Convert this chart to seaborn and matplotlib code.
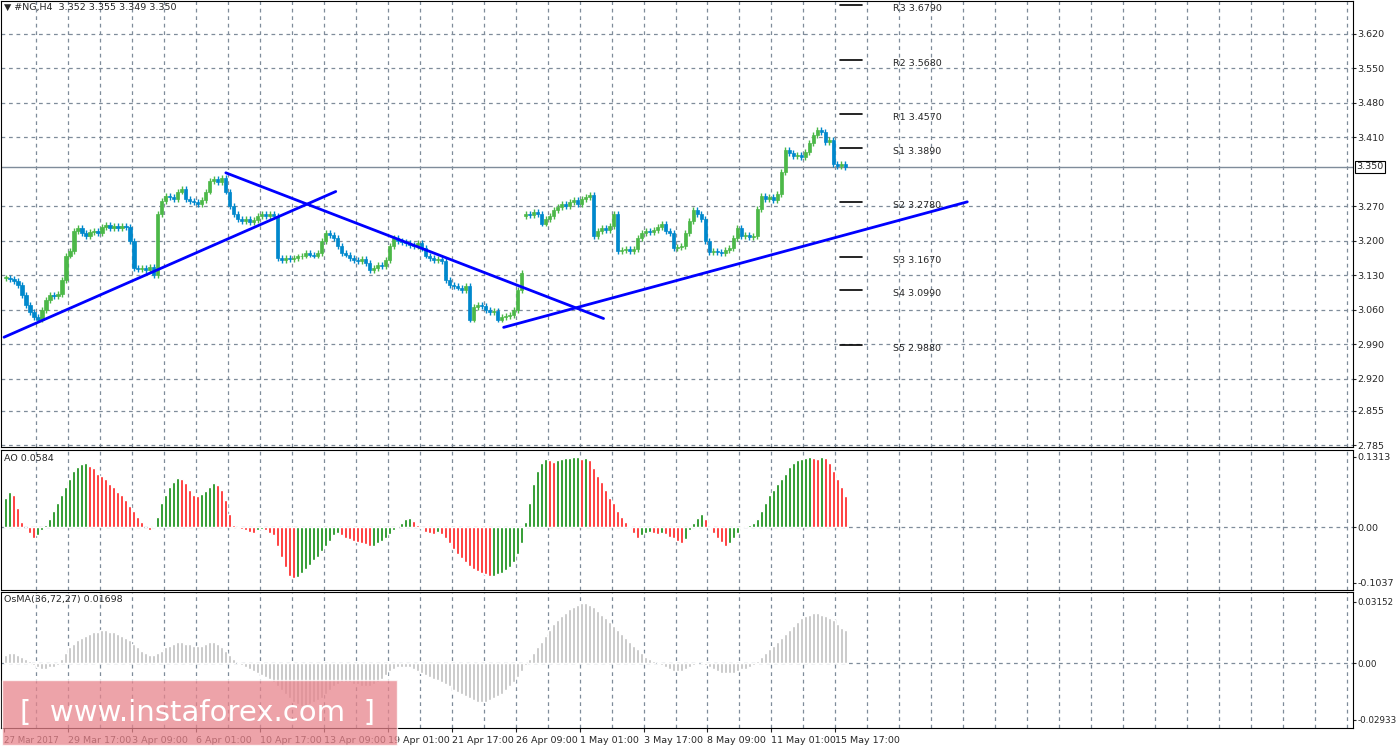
import numpy as np
import pandas as pd
import matplotlib
matplotlib.use("Agg")
import matplotlib.pyplot as plt
import seaborn as sns
from matplotlib.patches import Rectangle

closes = [3.125,3.122,3.118,3.110,3.090,3.070,3.055,3.045,3.040,
 3.060,3.080,3.090,3.088,3.092, 3.120,3.170,3.180,
 3.220,3.225,3.215,3.210,3.218, 3.220,3.215,3.228,3.232,3.225,3.230,
 3.226,3.230,3.228,3.200, 3.145,3.142,3.145,3.140,3.146,3.130, 3.255,
 3.280,3.290,3.288, 3.285,3.300,3.305,3.285, 3.280,3.278,3.275,3.282,3.300,
 3.322,3.325,3.320,3.328,3.300, 3.270,3.255,3.245,3.240,3.245,3.238,3.242,
 3.250,3.255,3.250,3.255,3.250, 3.165,3.160,3.165,3.162,3.165,3.168,
 3.170,3.175,3.172,3.170,3.175, 3.200,3.215,3.212,3.205,3.190,3.175,
 3.172,3.165,3.160,3.158,3.162,3.155, 3.140,3.145,3.150,3.148,3.160,
 3.190,3.205,3.200,3.198, 3.195,3.192,3.190,3.196,3.185,
 3.170,3.165,3.160,3.162,3.158, 3.120,3.110,3.108,3.105,3.100,3.108,
 3.040,3.065,3.070,3.068, 3.060,3.055,3.058,3.040, 3.045,3.048,3.050,3.060,3.100, 3.135,
 3.255,3.252,3.258,3.255,3.235,3.245, 3.250,3.262,3.268,3.275,3.270,
 3.278,3.282,3.275,3.285,3.288,3.292, 3.210,3.220,3.225,3.222,3.230,
 3.255,3.180, 3.182,3.184,3.180,3.184, 3.205,3.215,3.220,3.218,3.222,3.228,
 3.235,3.220,3.215, 3.185,3.188,3.190,3.215, 3.240,3.262,3.255,3.245,
 3.200,3.178,3.180,3.178,3.176,3.182, 3.185,3.205,3.225,3.210, 3.212,3.208,3.210,
 3.265,3.290,3.285, 3.288,3.282,3.295, 3.340,3.385,3.378,3.372,
 3.375,3.370,3.380,3.398, 3.415,3.425,3.420, 3.400,3.405,3.355, 3.352,3.355,3.350]

ao = [0.055,0.065,0.060,0.035, 0.010,0.000,-0.010, -0.020,-0.015,-0.005,
 0.005,0.015,0.030,0.045,0.060,0.075,0.090,0.105,0.112,0.118,0.120,
 0.115,0.110,0.100,0.095,0.090,0.080,0.075,0.065,0.060,0.050,0.040,0.030,0.020,
 0.010,0.000,-0.005,0.002, 0.020,0.045,0.060,0.075,0.085,0.092,0.090,0.082,
 0.070,0.060,0.058,0.062,0.068, 0.075,0.082,0.078,0.070,0.050,0.025,
 0.005,-0.002,-0.004,-0.005,-0.008,-0.010, -0.005,-0.004,-0.006,-0.010,-0.015,
 -0.035,-0.055,-0.075,-0.090,-0.095,-0.092,
 -0.085,-0.078,-0.070,-0.062,-0.055,-0.045,-0.035,-0.025,-0.015,-0.010,-0.015,
 -0.020,-0.022,-0.025,-0.028,-0.030,-0.032,-0.035,-0.035,-0.030,-0.025,-0.020,
 -0.012,-0.005,0.000,0.008,0.015,0.018,0.012,0.005,-0.002,
 -0.008,-0.010,-0.012,-0.008,-0.012,
 -0.020,-0.030,-0.040,-0.050,-0.058,-0.065,-0.072,-0.078,-0.082,-0.085,-0.088,-0.090,-0.090,-0.088,
 -0.085,-0.080,-0.075,-0.065,-0.050,-0.030,
 0.010,0.045,0.080,0.105,0.120,0.128,
 0.125,0.122,0.125,0.128,0.130,0.130,0.131,0.131,0.128,0.130,0.126,
 0.110,0.095,0.085,0.070,0.055,0.045,0.030,0.020,0.010,0.002,
 -0.010,-0.020,-0.015,-0.010,-0.008,-0.010,-0.012,-0.010,-0.012,-0.018,-0.020,-0.025,-0.030,-0.022,
 -0.005,0.008,0.018,0.025,0.015,
 -0.002,-0.010,-0.020,-0.028,-0.035,-0.030,-0.020,-0.010,-0.002,
 0.003,0.005,0.008,0.015,0.030,0.045,
 0.060,0.070,0.080,0.090,0.100,0.112,
 0.120,0.125,0.128,0.130,0.131,0.130,0.128,0.131,
 0.130,0.120,0.105,0.090,0.075,0.058]

osma = [0.004,0.005,0.005,0.004,0.003,0.002,0.001,
 -0.001,-0.002,-0.003,-0.003,-0.002,-0.002,-0.001,
 0.002,0.005,0.008,0.010,0.012,0.013,0.014,
 0.015,0.016,0.016,0.017,0.017,0.016,0.016,0.015,0.014,0.013,0.012,
 0.010,0.008,0.006,0.005,0.004,0.004,0.005,
 0.006,0.008,0.009,0.010,0.011,0.011,0.010,0.010,0.009,0.009,0.009,0.010,0.011,0.011,
 0.010,0.008,0.006,0.004,0.002,0.000,-0.001,-0.002,
 -0.003,-0.004,-0.005,-0.006,-0.007,-0.008,-0.010,-0.012,-0.014,-0.016,-0.018,-0.020,
 -0.021,-0.022,-0.022,-0.021,-0.020,-0.019,-0.018,-0.016,-0.014,-0.012,-0.011,-0.010,
 -0.010,-0.010,-0.011,-0.011,-0.012,-0.012,-0.012,-0.011,-0.010,-0.008,-0.006,-0.004,-0.003,-0.002,-0.002,-0.002,
 -0.002,-0.003,-0.004,-0.005,-0.006,-0.007,-0.008,-0.009,-0.010,-0.011,
 -0.012,-0.014,-0.015,-0.016,-0.017,-0.018,-0.019,-0.020,-0.020,-0.020,-0.019,-0.018,-0.017,-0.016,-0.014,
 -0.012,-0.010,-0.007,-0.004,-0.001,0.002,0.005,0.008,
 0.011,0.014,0.017,0.020,0.022,0.024,0.026,0.028,0.029,0.030,0.031,0.031,0.030,
 0.029,0.027,0.025,0.023,0.021,0.019,0.017,0.015,0.013,0.011,0.009,0.007,
 0.005,0.003,0.002,0.001,0.000,-0.001,-0.002,-0.003,-0.004,-0.004,-0.004,-0.003,
 -0.002,-0.001,0.000,0.000,-0.001,-0.002,-0.003,-0.004,-0.005,-0.005,-0.005,-0.005,-0.004,-0.003,-0.003,-0.002,
 -0.001,0.001,0.003,0.005,0.007,0.009,0.011,0.013,0.015,0.017,0.019,0.021,0.023,
 0.024,0.025,0.026,0.026,0.025,0.024,0.023,0.022,0.020,0.018,0.017]

pivot_names = ["R3","R2","R1","S1","S2","S3","S4","S5"]
pivot_vals = [3.6790,3.5680,3.4570,3.3890,3.2780,3.1670,3.0990,2.9880]

tl_id = ["t1","t1","t2","t2","t3","t3"]
tl_x = [-0.5,82.5,55,149.5,124.5,240.5]
tl_y = [3.004,3.300,3.338,3.042,3.024,3.279]

price_ticks = [3.620,3.550,3.480,3.410,3.270,3.200,3.130,3.060,2.990,2.920,2.855,2.785]
date_labels = ["29 Mar 17:00","3 Apr 09:00","6 Apr 01:00","10 Apr 17:00","13 Apr 09:00",
               "19 Apr 01:00","21 Apr 17:00","26 Apr 09:00","1 May 01:00","3 May 17:00",
               "8 May 09:00","11 May 01:00","15 May 17:00"]

sns.set_style("white")
plt.rcParams['font.family'] = ['DejaVu Sans']
FS = 6.8
W, H = 1398, 749
fig = plt.figure(figsize=(W/100, H/100), dpi=100)
L, R = 1/W, 1353/W
def mk(ytop, ybot):
    return fig.add_axes([L, 1-ybot/H, R-L, (ybot-ytop)/H])
ax1 = mk(1, 447); ax2 = mk(450, 590); ax3 = mk(592, 728)
XL = (-1.25, 337)
grid_x = np.arange(7.5, 337, 8)
gkw = dict(color='#7F8C9A', ls=(0, (3, 3)), lw=0.9, zorder=0)

n = len(closes)
idx = np.arange(n)
opens = np.array([closes[0]] + closes[:-1])
opens[130] = 3.250
c = np.array(closes)
up = c >= opens
cols = np.where(up, '#4CB848', '#0088CC')
hi = np.maximum(opens, c) + 0.006
lo = np.minimum(opens, c) - 0.006
ax1.vlines(idx, lo, hi, color=cols, lw=1, zorder=3)
ax1.bar(idx, np.maximum(np.abs(c-opens), 0.002), bottom=np.minimum(opens, c), width=0.8,
        color=cols, edgecolor=cols, lw=0.5, zorder=4)
df = pd.DataFrame(dict(id=tl_id, x=tl_x, y=tl_y))
sns.lineplot(data=df, x='x', y='y', units='id', estimator=None, color='#0000FF', lw=2, ax=ax1, legend=False, zorder=5)
for nm, v in zip(pivot_names, pivot_vals):
    ax1.plot([208.75, 214.25], [v, v], color='black', lw=1.2, zorder=5)
    ax1.text(222, v - 0.007, f"{nm} {v:.4f}", fontsize=FS, va='center', ha='left')
ax1.axhline(3.350, color='#7F8C9A', lw=1, zorder=2)
ax1.set_ylim(2.781, 3.687)
ax1.set_yticks(price_ticks)
for y in price_ticks:
    ax1.axhline(y, **gkw)
ax1.text(1.0 + 3/1353, 3.350, "3.350", transform=ax1.get_yaxis_transform(), fontsize=FS,
         va='center', ha='left', bbox=dict(boxstyle='square,pad=0.15', fc='white', ec='black', lw=0.8))
ax1.text(3/1353, 0.995, "▼ #NG,H4  3.352 3.355 3.349 3.350", transform=ax1.transAxes, fontsize=FS, va='top')

a = np.array(ao)
ia = np.arange(len(a))
inc = np.r_[True, np.diff(a) >= 0]
ax2.bar(ia, a, width=0.75, color=np.where(inc, '#0A8A0A', '#FF1A1A'), zorder=3)
ax2.set_ylim(-0.117, 0.144)
ax2.set_yticks([0.1313, 0.0, -0.1037]); ax2.set_yticklabels(["0.1313", "0.00", "-0.1037"])
ax2.axhline(0.0, **gkw)
ax2.text(3/1353, 0.97, "AO 0.0584", transform=ax2.transAxes, fontsize=FS, va='top')

o = np.array(osma)
ax3.bar(np.arange(len(o)), o, width=0.75, color='#C0C0C0', zorder=3)
ax3.set_ylim(-0.0335, 0.0366)
ax3.set_yticks([0.03152, 0.0, -0.02933]); ax3.set_yticklabels(["0.03152", "0.00", "-0.02933"])
ax3.axhline(0.0, **gkw)
ax3.text(3/1353, 0.98, "OsMA(36,72,27) 0.01698", transform=ax3.transAxes, fontsize=FS, va='top')

for ax in (ax1, ax2, ax3):
    ax.set_xlim(*XL)
    for gx in grid_x:
        ax.axvline(gx, **gkw)
    ax.yaxis.tick_right()
    ax.tick_params(axis='y', labelsize=FS, length=2, direction='out', right=True, pad=1)
    ax.set_xticks([])
    for s in ax.spines.values():
        s.set_color('black'); s.set_linewidth(0.8)
    ax.set_xlabel(''); ax.set_ylabel('')
for t in ax3.get_yticklabels():
    t.set_fontsize(6.3)

ax3.set_xticks(np.r_[-0.5, grid_x[1::2][:len(date_labels)]])
ax3.set_xticklabels(["27 Mar 2017"] + date_labels, ha='left', fontsize=FS)
ax3.get_xticklabels()[0].set_fontsize(6.2)
ax3.tick_params(axis='x', length=3, pad=3, bottom=True)

fig.patches.append(Rectangle((2/W, 1-745/H), 395/W, 65/H, transform=fig.transFigure,
                             fc='#E8848C', alpha=0.75, zorder=10))
fig.text(198/W, 1-713/H, "[  www.instaforex.com  ]", color='white', fontsize=21,
         ha='center', va='center', zorder=11)
fig.savefig("out.png", dpi=100, facecolor='white')
